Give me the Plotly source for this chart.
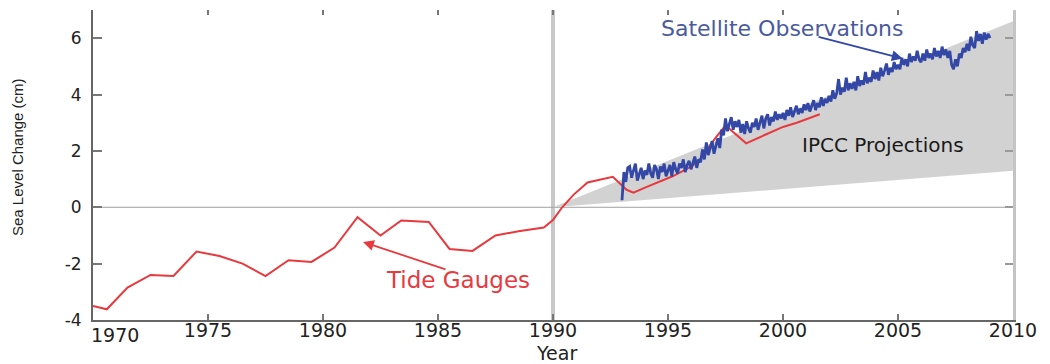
import plotly.graph_objects as go

# ---------------- data ----------------
tide_years = [1970.0, 1970.6, 1971.5, 1972.5, 1973.5, 1974.5, 1975.5, 1976.5, 1977.5, 1978.5,
              1979.5, 1980.5, 1981.5, 1982.5, 1983.4, 1984.6, 1985.5, 1986.5, 1987.5, 1988.5,
              1989.6, 1990.0, 1990.4, 1990.9, 1991.5, 1992.3, 1992.6, 1993.2, 1993.5, 1994.0,
              1994.6, 1995.2, 1995.8, 1996.3, 1996.7, 1997.1, 1997.5, 1998.0, 1998.4, 1999.3,
              2000.0, 2000.6, 2001.6]
tide_values = [-3.5, -3.62, -2.85, -2.4, -2.44, -1.57, -1.73, -2.0, -2.44, -1.88,
               -1.94, -1.43, -0.35, -1.0, -0.47, -0.52, -1.48, -1.55, -1.0, -0.85,
               -0.72, -0.45, 0.0, 0.45, 0.88, 1.02, 1.08, 0.62, 0.52, 0.7,
               0.9, 1.1, 1.35, 1.6, 2.05, 2.5, 2.9, 2.55, 2.27, 2.6,
               2.85, 3.0, 3.3]

sat_start = 1993.0
sat_step = 1 / 12
sat_values = [
    0.25, 1.25, 0.90, 1.40, 1.45, 1.05, 1.30, 1.55, 0.95, 1.20, 1.40, 1.00,   # 1993
    1.30, 1.15, 1.55, 1.20, 1.05, 1.50, 1.35, 1.00, 1.45, 1.25, 1.55, 1.10,   # 1994
    1.30, 1.50, 1.10, 1.60, 1.35, 1.20, 1.55, 1.40, 1.70, 1.25, 1.50, 1.65,   # 1995
    1.35, 1.55, 1.80, 1.40, 1.70, 1.60, 2.05, 1.70, 2.30, 1.85, 2.15, 2.35,   # 1996
    1.90, 2.20, 2.45, 2.10, 2.75, 2.55, 3.15, 2.70, 2.95, 3.20, 2.75, 3.05,   # 1997
    2.85, 3.10, 2.65, 2.95, 2.60, 3.05, 2.80, 2.65, 3.00, 2.85, 3.15, 2.75,   # 1998
    3.00, 3.25, 2.80, 3.15, 3.30, 2.90, 3.20, 3.05, 3.40, 3.10, 3.30, 3.15,   # 1999
    3.35, 3.10, 3.45, 3.25, 3.55, 3.20, 3.40, 3.60, 3.30, 3.50, 3.35, 3.65,   # 2000
    3.45, 3.70, 3.40, 3.60, 3.80, 3.45, 3.70, 3.55, 3.90, 3.60, 3.85, 3.70,   # 2001
    3.95, 3.75, 4.15, 3.85, 4.05, 4.55, 4.00, 4.25, 4.10, 4.60, 4.15, 4.40,   # 2002
    4.20, 4.45, 4.15, 4.65, 4.30, 4.50, 4.35, 4.80, 4.40, 4.60, 4.45, 4.85,   # 2003
    4.55, 4.80, 4.50, 4.95, 4.65, 4.85, 5.10, 4.70, 4.95, 4.80, 5.15, 4.90,   # 2004
    5.05, 4.90, 5.30, 5.05, 5.25, 5.00, 5.45, 5.15, 5.35, 5.20, 5.55, 5.25,   # 2005
    5.15, 5.45, 5.20, 5.60, 5.30, 5.45, 5.25, 5.65, 5.35, 5.55, 5.30, 5.70,   # 2006
    5.40, 5.60, 5.30, 5.55, 5.05, 4.90, 5.25, 5.00, 5.45, 5.30, 5.65, 5.50,   # 2007
    5.80, 5.55, 6.05, 5.75, 5.65, 6.25, 5.90, 6.15, 5.80, 6.20, 5.95, 6.15,   # 2008
    6.00,                                                                       # 2009
]
sat_years = [sat_start + i * sat_step for i in range(len(sat_values))]

ipcc_years = [1990.0, 2010.0]
ipcc_upper = [0.0, 6.6]
ipcc_lower = [0.0, 1.3]

x_ticks = [1970, 1975, 1980, 1985, 1990, 1995, 2000, 2005, 2010]
x_tick_text = ["", "1975", "1980", "1985", "1990", "1995", "2000", "2005", "2010"]
y_ticks = [-4, -2, 0, 2, 4, 6]
y_tick_text = ["-4", "-2", "0", "2", "4", "6"]

# ---------------- styles ----------------
RED = "#e8393e"
BLUE = "#3247a6"
BLUE_TXT = "#4a5a9e"
GRAY_FILL = "#d2d2d2"
FONT = "DejaVu Sans"

# page body has an 8px margin: size the figure so that it fits the window
OFF = 8
W, H = 1042, 356
L, R, T, B = 85, 37, 2, 44
pw, ph = W - L - R, H - T - B

fig = go.Figure()

# IPCC projection fan
fig.add_trace(go.Scatter(x=ipcc_years, y=ipcc_lower, mode="lines",
                         line=dict(width=0, color=GRAY_FILL), hoverinfo="skip", showlegend=False))
fig.add_trace(go.Scatter(x=ipcc_years, y=ipcc_upper, mode="lines", fill="tonexty",
                         fillcolor=GRAY_FILL, line=dict(width=0, color=GRAY_FILL),
                         hoverinfo="skip", showlegend=False))

# Tide gauges
fig.add_trace(go.Scatter(x=tide_years, y=tide_values, mode="lines",
                         line=dict(color=RED, width=2), showlegend=False, name="Tide Gauges"))
# Satellite
fig.add_trace(go.Scatter(x=sat_years, y=sat_values, mode="lines",
                         line=dict(color=BLUE, width=2.8), showlegend=False,
                         name="Satellite Observations"))

# dummy trace to attach mirrored axes
fig.add_trace(go.Scatter(x=[1970], y=[-4], xaxis="x2", yaxis="y2", mode="markers",
                         marker=dict(opacity=0), hoverinfo="skip", showlegend=False))

# reference lines
fig.add_shape(type="line", xref="x", yref="paper", x0=1990, x1=1990, y0=0, y1=1,
              line=dict(color="#c8c8c8", width=4), layer="below")
fig.add_shape(type="line", xref="paper", yref="y", x0=0, x1=1, y0=0, y1=0,
              line=dict(color="#a0a0a0", width=1), layer="below")

# arrows
fig.add_annotation(x=2005.2, y=5.28, ax=2001.48, ay=6.06, axref="x", ayref="y",
                   xref="x", yref="y", text="", showarrow=True, arrowhead=2,
                   arrowsize=1.2, arrowwidth=1.8, arrowcolor=BLUE)
fig.add_annotation(x=1981.74, y=-1.23, ax=1985.39, ay=-2.22, axref="x", ayref="y",
                   xref="x", yref="y", text="", showarrow=True, arrowhead=2,
                   arrowsize=1.2, arrowwidth=1.8, arrowcolor=RED)


def label(text, sx, sy, size, color, family=FONT, angle=0):
    """Place a text centred at screen pixel (sx, sy)."""
    px, py = sx - OFF, sy - OFF
    fig.add_annotation(x=(px - L) / pw, y=(H - B - py) / ph, xref="paper", yref="paper",
                       text=text, showarrow=False, textangle=angle,
                       xanchor="center", yanchor="middle",
                       font=dict(family=family, size=size, color=color))


label("Satellite Observations", 782, 28, 22, BLUE_TXT)
label("IPCC Projections", 883, 145, 20, "#1a1a1a")
label("Tide Gauges", 458, 280, 23, RED)
label("Year", 556, 353, 19, "#222")
label("1970", 115, 335, 19, "#222")
label("Sea Level Change (cm)", 17, 157, 15, "#222", family="Liberation Sans", angle=-90)

fig.update_layout(
    width=W, height=H,
    margin=dict(l=L, r=R, t=T, b=B),
    paper_bgcolor="white", plot_bgcolor="white",
    font=dict(family=FONT, color="#222"),
    xaxis=dict(range=[1970, 2010], tickvals=x_ticks, ticktext=x_tick_text, ticks="inside",
               ticklen=6, tickcolor="#777", tickwidth=1.5, showline=True, linecolor="#666",
               linewidth=2, showgrid=False, zeroline=False, ticklabelstandoff=-8,
               tickfont=dict(family=FONT, size=19, color="#222")),
    yaxis=dict(range=[-4, 7], tickvals=y_ticks, ticktext=y_tick_text, ticks="inside", ticklen=9,
               tickcolor="#777", tickwidth=1.5, showline=True, linecolor="#666", linewidth=2,
               showgrid=False, zeroline=False, ticklabelstandoff=6,
               tickfont=dict(family=FONT, size=17, color="#222")),
    xaxis2=dict(range=[1970, 2010], tickvals=x_ticks, ticks="inside", ticklen=5,
                tickcolor="#777", tickwidth=1.5, showline=False, showticklabels=False,
                showgrid=False, zeroline=False, overlaying="x", side="top"),
    yaxis2=dict(range=[-4, 7], tickvals=y_ticks, ticks="inside", ticklen=8,
                tickcolor="#999", tickwidth=1.5, showline=True, linecolor="#c4c4c4", linewidth=3,
                showticklabels=False, showgrid=False, zeroline=False, overlaying="y", side="right"),
)

fig.write_html("out.html")
